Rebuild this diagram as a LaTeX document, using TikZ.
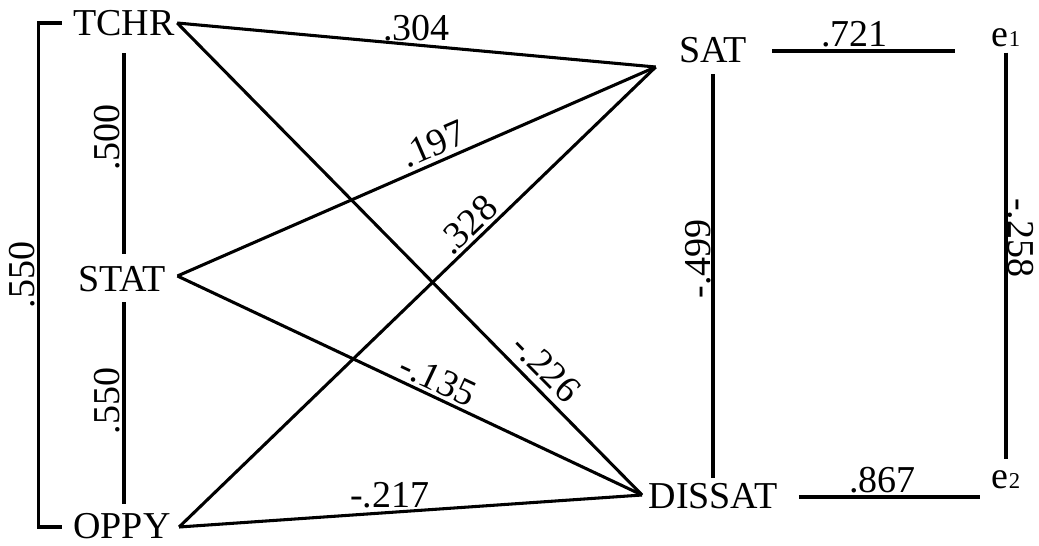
\documentclass[tikz,border=0pt]{standalone}
\usepackage{fontspec}
\setmainfont{Liberation Serif}
\usetikzlibrary{calc}

\tikzset{every picture/.style={line width=2.3pt}}
\tikzset{var/.style={inner sep=0pt, font=\fontsize{28.5}{30}\selectfont},
  coef/.style={inner sep=2pt, font=\fontsize{28.5}{30}\selectfont}}

\begin{document}
\begin{tikzpicture}[x=0.75pt,y=0.75pt,yscale=-1,xscale=1]
\useasboundingbox (0,0) rectangle (1039,546);

% Text Node
\node[var] (tchr) at (124,23) {TCHR};
% Text Node
\node[var] (stat) at (122,279) {STAT};
% Text Node
\node[var] (oppy) at (122,526) {OPPY};
% Text Node
\node[var] (sat) at (713,50) {SAT};
% Text Node
\node[var] (dissat) at (713,496) {DISSAT};
% Text Node
\node[var] (e1) at (1006,38) {e{\fontsize{17}{17}\selectfont 1}};
% Text Node
\node[var] (e2) at (1006,480) {e{\fontsize{17}{17}\selectfont 2}};

% ports
\coordinate (tchr-out) at ($(tchr.east)+(1,0)$);
\coordinate (stat-out) at ($(stat.east)+(10,-3)$);
\coordinate (oppy-out) at ($(oppy.east)+(7,1)$);
\coordinate (sat-in) at ($(sat.west)+(-22,17)$);
\coordinate (dissat-in) at ($(dissat.west)+(-5,-1)$);
\coordinate (brk-top) at ($(tchr.west)+(-33,0)$);
\coordinate (brk-bot) at (brk-top |- oppy-out);

%Correlations among predictors
\draw ($(tchr.west)+(-10,0)$) -- (brk-top) -- node[coef, rotate=90, anchor=south] {.550} (brk-bot) -- ++(23,0);
\draw ($(tchr.south)+(0,16)$) -- node[coef, rotate=90, anchor=south, pos=0.42] {.500} ($(tchr.south |- stat.north)+(0,-11)$);
\draw ($(tchr.south |- stat.south)+(0,9)$) -- node[coef, rotate=90, anchor=south, pos=0.49] {.550} ($(tchr.south |- oppy.north)+(0,-8)$);

%Paths (yscale=-1, so angles are given by hand)
\draw (tchr-out) -- node[coef, above] {.304} (sat-in);
\draw (tchr-out) -- node[coef, rotate=-45.4, anchor=south, pos=0.762, inner sep=5pt] {-.226} (dissat-in);
\draw (stat-out) -- node[coef, rotate=23.5, anchor=south, pos=0.55, inner sep=3pt] {.197} (sat-in);
\draw (stat-out) -- node[coef, rotate=-25.2, anchor=south, pos=0.545] {-.135} (dissat-in);
\draw (oppy-out) -- node[coef, rotate=43.8, anchor=south, pos=0.63] {.328} (sat-in);
\draw (oppy-out) -- node[coef, above, pos=0.455] {-.217} (dissat-in);

%Outcomes and residuals
\draw ($(sat.south)+(0,10)$) -- node[coef, rotate=90, anchor=south, inner sep=0pt, pos=0.457] {-.499} ($(sat.south |- dissat.north)+(0,-4)$);
\draw ($(e1.south)+(0,4)$) -- node[coef, rotate=-90, anchor=south, inner sep=0pt, pos=0.455] {-.258} ($(e2.north)+(0,-10)$);
\draw ($(sat.east)+(24,1)$) -- node[coef, above, pos=0.45] {.721} ($(sat.east -| e1.west)+(-35,1)$);
\draw ($(dissat.east)+(20,1)$) -- node[coef, above, pos=0.46] {.867} ($(dissat.east -| e2.west)+(-10,1)$);

\end{tikzpicture}
\end{document}
